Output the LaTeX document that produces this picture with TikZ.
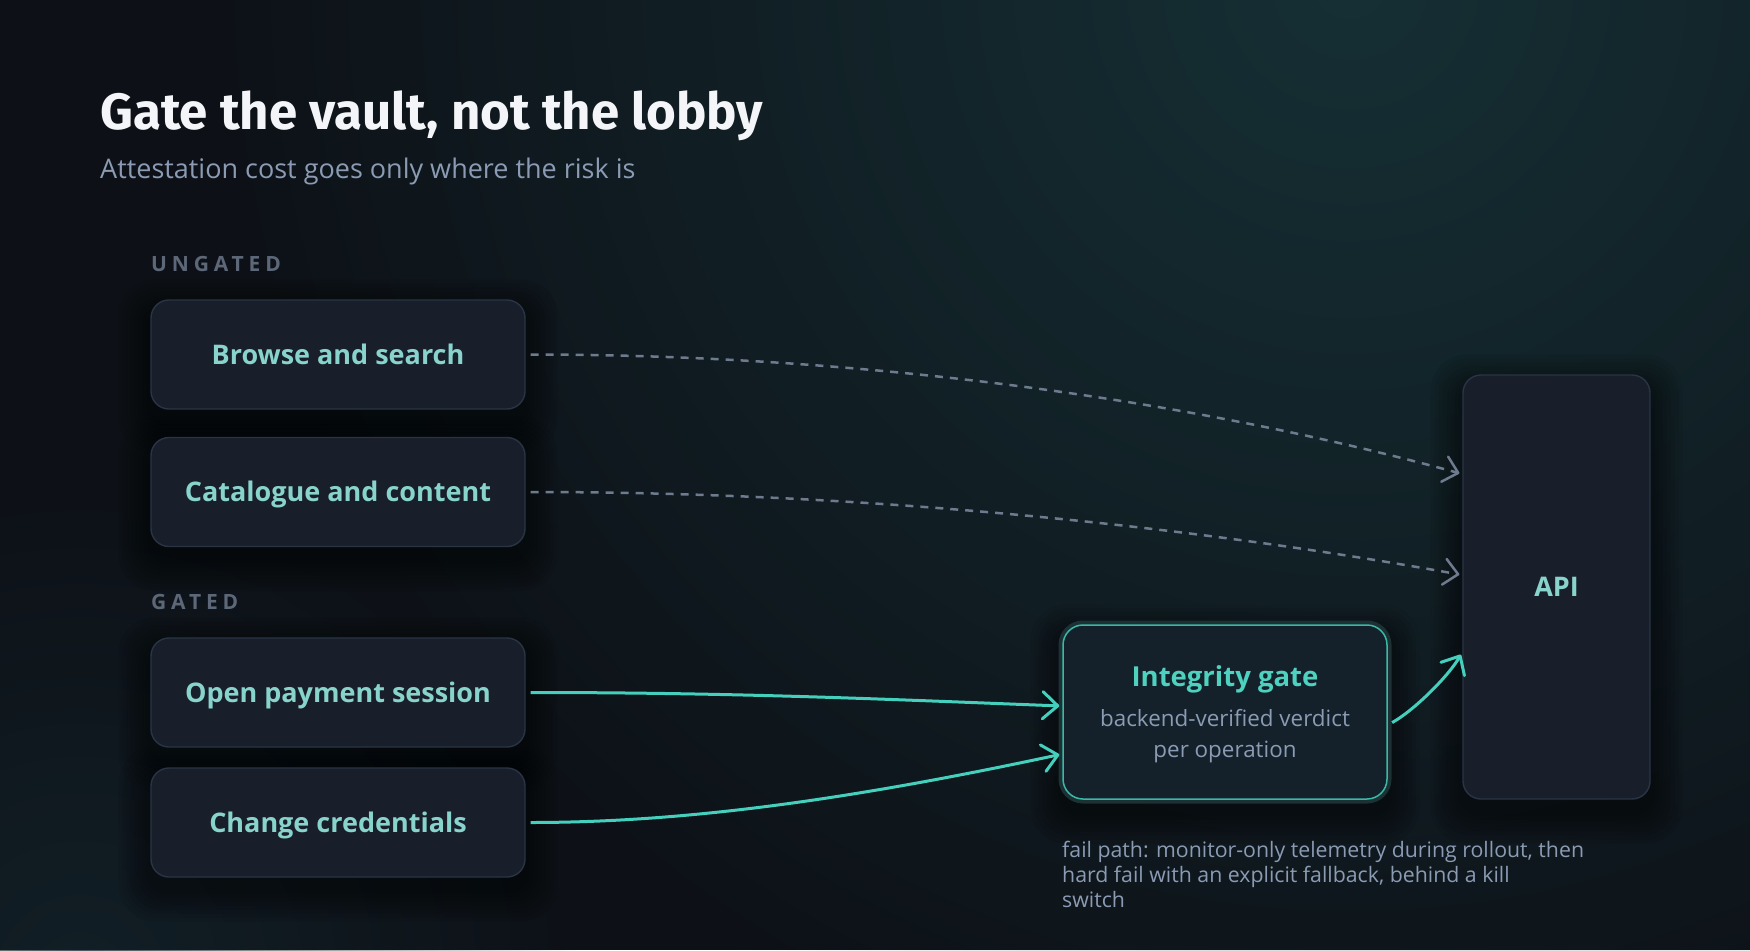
\documentclass[tikz,border=0pt]{standalone}
\usepackage{fontspec}
\setmainfont{Open Sans}
\newfontfamily\headfont{Fira Sans}
\usetikzlibrary{arrows.meta,calc,fadings}
\tikzfading[name=glowfade, inner color=transparent!0, outer color=transparent!100]
\definecolor{bgc}{HTML}{0D1117}
\definecolor{glowa}{HTML}{163035}
\definecolor{glowb}{HTML}{13232A}
\definecolor{cardfill}{HTML}{181E2A}
\definecolor{cardline}{HTML}{2A3445}
\definecolor{labelc}{HTML}{88D3CB}
\definecolor{tealc}{HTML}{45D0BD}
\definecolor{gatetitle}{HTML}{4FD1C0}
\definecolor{gatefill}{HTML}{14212B}
\definecolor{gateline}{HTML}{3CB8A8}
\definecolor{gateglow}{HTML}{1B3133}
\definecolor{mutedc}{HTML}{8A9BB3}
\definecolor{sectc}{HTML}{5C6778}
\definecolor{dashc}{HTML}{6E7A8D}
\definecolor{titlec}{HTML}{F3F5F8}
\newcommand\cardfont{\fontsize{27}{32}\selectfont\bfseries}
\newcommand\softshadow[1]{%
  \foreach \s in {4,8,...,32}{%
    \fill[black,opacity=0.06,rounded corners=18pt+0.6pt*\s]
      ($(#1.north west)+(-\s,-\s+12)$) rectangle ($(#1.south east)+(\s,\s+12)$);}}
\pgfdeclarelayer{bg}\pgfdeclarelayer{shadow}
\pgfsetlayers{bg,shadow,main}
\begin{document}
\begin{tikzpicture}[x=1pt,y=-1pt,
  card/.style={rounded corners=18pt, fill=cardfill, draw=cardline, line width=1.4pt,
    minimum width=374pt, minimum height=109pt, text=labelc, font=\cardfont,
    text height=19pt, text depth=0pt, inner sep=0pt},
  sectlabel/.style={anchor=base west, inner sep=0pt, text=sectc,
    font=\fontsize{21}{25}\selectfont\bfseries\addfontfeatures{LetterSpace=23}},
  dashlink/.style={draw=dashc, line width=2.5pt, dash pattern=on 8pt off 7pt,
    -{Straight Barb[length=14pt,width=26pt,line cap=round,line join=round]},
    shorten <=5pt, shorten >=3pt},
  gatelink/.style={draw=tealc, line width=3pt,
    -{Straight Barb[length=15pt,width=27pt,line cap=round,line join=round]},
    shorten <=5pt, shorten >=3pt},
  plain/.style={inner sep=0pt}]
\begin{pgfonlayer}{bg}
  \fill[bgc] (0,0) rectangle (1750,950);
  \begin{scope}
    \clip (0,0) rectangle (1750,950);
    \fill[glowa, path fading=glowfade] (1350,-20) circle (1150);
    \fill[glowb, path fading=glowfade, opacity=0.8] (80,980) circle (500);
  \end{scope}
\end{pgfonlayer}
\useasboundingbox (0,0) rectangle (1750,950);

% titles
\node[plain, anchor=base west, text=titlec, font=\headfont\fontsize{51}{60}\selectfont\bfseries] (title) at (100,129) {Gate the vault, not the lobby};
\node[plain, anchor=base west, text=mutedc, font=\fontsize{27}{32}\selectfont] (subtitle) at (100,178) {Attestation cost goes only where the risk is};

% sections
\node[sectlabel] (ungated) at (151,271) {UNGATED};
\node[sectlabel] (gated) at (151,609) {GATED};

% cards
\node[card] (browse) at (338,354.5) {Browse and search};
\node[card] (catalogue) at (338,492) {Catalogue and content};
\node[card] (openpay) at (338,692.5) {Open payment session};
\node[card] (change) at (338,822.5) {Change credentials};

% gate
\node[rounded corners=20pt, fill=gatefill, draw=gateline, line width=1.5pt,
  preaction={draw=gateglow, line width=9pt},
  minimum width=324pt, minimum height=174pt, inner sep=0pt] (gate) at (1225,712) {};
\node[plain, anchor=base, text=gatetitle, font=\fontsize{27.5}{32}\selectfont\bfseries] (gatet) at (1225,686) {Integrity gate};
\node[plain, anchor=base, text=mutedc, font=\fontsize{22.4}{26}\selectfont] (gates1) at (1225,726) {backend-verified verdict};
\node[plain, anchor=base, text=mutedc, font=\fontsize{22.4}{26}\selectfont] (gates2) at (1225,757) {per operation};

% api
\node[card, minimum width=187pt, minimum height=424pt] (api) at (1556.5,587) {API};

% fail path
\node[plain, anchor=north west, align=left, text=mutedc, font=\fontsize{21.3}{24.8}\selectfont] (fail) at (1062,841)
  {fail path: monitor-only telemetry during rollout, then\\hard fail with an explicit fallback, behind a kill\\switch};

% shadows
\begin{pgfonlayer}{shadow}
  \softshadow{browse}
  \softshadow{catalogue}
  \softshadow{openpay}
  \softshadow{change}
  \softshadow{gate}
  \softshadow{api}
\end{pgfonlayer}

% connectors
\draw[dashlink] (browse.east) .. controls +(320,0) and +(-289,-79) .. ([yshift=113pt]api.west);
\draw[dashlink] (catalogue.east) .. controls +(320,0) and +(-295,-53) .. ([yshift=12pt]api.west);
\draw[gatelink] (openpay.east) .. controls +(220,0) and +(-160,-6) .. ([yshift=6pt]gate.west);
\draw[gatelink] (change.east) .. controls +(170,0) and +(-196,42) .. ([yshift=-42pt]gate.west);
\draw[gatelink] ([yshift=-13pt]gate.east) .. controls +(27,-15) and +(-13,23) .. ([yshift=-65pt]api.west);
\end{tikzpicture}
\end{document}
